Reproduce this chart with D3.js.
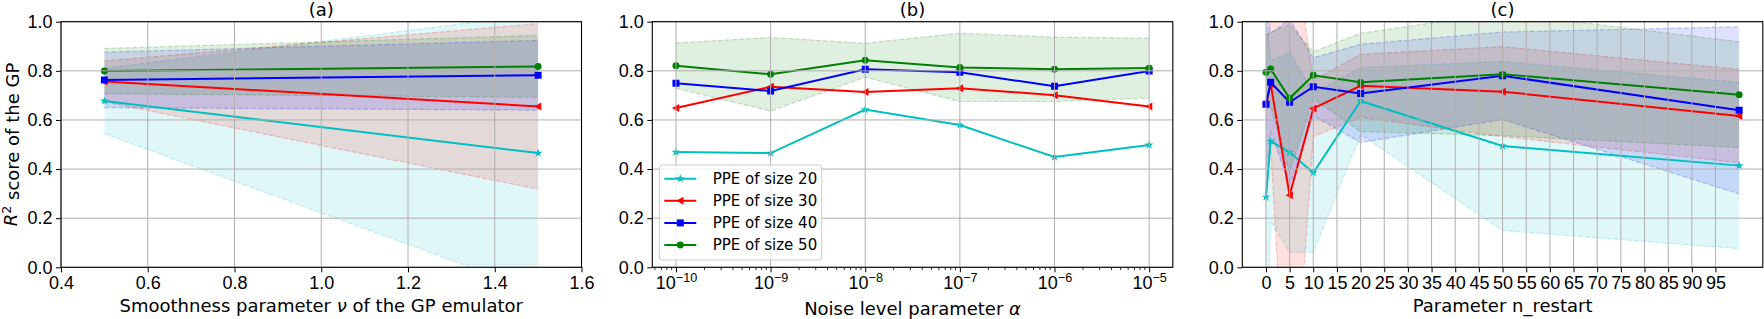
<!DOCTYPE html>
<html>
<head>
<meta charset="utf-8">
<script src="https://d3js.org/d3.v7.min.js"></script>
<style>
    body { margin: 0; background: #fff; }
    svg { display: block; font-family: "DejaVu Sans", sans-serif; }
</style>
</head>
<body>
<div id="chart"></div>
<script>
// Series (same in every panel)
var seriesNames = ["PPE of size 20", "PPE of size 30", "PPE of size 40", "PPE of size 50"];
var seriesColors = ["#00bfbf", "#ff0000", "#0000ff", "#008000"];
var seriesMarkers = ["star", "triangle", "square", "circle"];

// (a) smoothness parameter nu
var nuValues = [0.5, 1.5];
var nuTicks = [0.4, 0.6, 0.8, 1.0, 1.2, 1.4, 1.6];
var aMeans = [
    [0.677, 0.465],
    [0.757, 0.655],
    [0.763, 0.782],
    [0.799, 0.818]
];
var aStds = [
    [0.133, 0.565],
    [0.083, 0.337],
    [0.113, 0.142],
    [0.092, 0.126]
];

// (b) noise level alpha
var alphaValues = [1e-10, 1e-9, 1e-8, 1e-7, 1e-6, 1e-5];
var bMeans = [
    [0.469, 0.465, 0.642, 0.579, 0.449, 0.498],
    [0.649, 0.735, 0.714, 0.729, 0.701, 0.655],
    [0.749, 0.718, 0.806, 0.794, 0.737, 0.799],
    [0.821, 0.786, 0.843, 0.814, 0.806, 0.811]
];
var bStds = [
    null,
    null,
    null,
    [0.092, 0.150, 0.069, 0.139, 0.131, 0.122]
];

// (c) n_restart
var restartValues = [0, 1, 5, 10, 20, 50, 100];
var restartTicks = d3.range(0, 100, 5);
var cMeans = [
    [0.286, 0.514, 0.468, 0.385, 0.677, 0.494, 0.414],
    [0.665, 0.746, 0.293, 0.647, 0.739, 0.715, 0.616],
    [0.664, 0.753, 0.672, 0.735, 0.708, 0.780, 0.639],
    [0.794, 0.807, 0.688, 0.782, 0.753, 0.786, 0.703]
];
var cStds = [
    [0.75, 0.325, 0.407, 0.324, 0.136, 0.344, 0.338],
    [0.25, 0.259, 1.13, 0.115, 0.128, 0.183, 0.19],
    [0.40, 0.20, 0.337, 0.118, 0.20, 0.178, 0.34],
    [0.15, 0.15, 0.30, 0.096, 0.20, 0.25, 0.215]
];

var yTicks = [0, 0.2, 0.4, 0.6, 0.8, 1.0];

function markerPath(type) {
    if (type == "star") return d3.symbol(d3.symbolStar, 24)();
    if (type == "square") return d3.symbol(d3.symbolSquare, 49)();
    if (type == "circle") return d3.symbol(d3.symbolCircle, 38)();
    return "M-4,0L3.2,-4L3.2,4Z";   // triangle pointing left
}

function init() {
    var w = 1764;
    var h = 319;
    var top = 21.7, bottom = 267.3;
    var panelLeft = [61, 652.3, 1242.3];
    var panelW = 520.5;
    var fontSize = 18;

    var svg = d3.select("#chart")
        .append("svg")
        .attr("width", w)
        .attr("height", h);

    var y = d3.scaleLinear().domain([0, 1]).range([bottom, top]);

    var panels = [
        {
            title: "(a)", xs: nuValues, means: aMeans, stds: aStds,
            x: d3.scaleLinear().domain([0.4, 1.6]),
            ticks: nuTicks, fmt: d3.format(".1f")
        },
        {
            title: "(b)", xs: alphaValues, means: bMeans, stds: bStds,
            x: d3.scaleLog().domain([Math.pow(10, -10.25), Math.pow(10, -4.75)]),
            ticks: alphaValues, log: true
        },
        {
            title: "(c)", xs: restartValues, means: cMeans, stds: cStds,
            x: d3.scaleLinear().domain([-5, 105]),
            ticks: restartTicks, fmt: d3.format("d")
        }
    ];

    panels.forEach(function (p, pi) {
        var left = panelLeft[pi];
        var x = p.x.range([left, left + panelW]);
        var g = svg.append("g");

        var clipId = "clip" + pi;
        svg.append("clipPath").attr("id", clipId)
            .append("rect")
            .attr("x", left).attr("y", top)
            .attr("width", panelW).attr("height", bottom - top);

        var plot = g.append("g").attr("clip-path", "url(#" + clipId + ")");

        // Bands (mean +/- std)
        p.means.forEach(function (m, si) {
            var s = p.stds[si];
            if (!s) return;
            var pts = p.xs.map(function (xv, i) { return { x: xv, m: m[i], s: s[i] }; });
            var area = d3.area()
                .x(function (d) { return x(d.x); })
                .y0(function (d) { return y(d.m - d.s); })
                .y1(function (d) { return y(d.m + d.s); });
            plot.append("path")
                .attr("d", area(pts))
                .attr("fill", seriesColors[si])
                .attr("fill-opacity", 0.12);
            [1, -1].forEach(function (sign) {
                var edge = d3.line()
                    .x(function (d) { return x(d.x); })
                    .y(function (d) { return y(d.m + sign * d.s); });
                plot.append("path")
                    .attr("d", edge(pts))
                    .attr("fill", "none")
                    .attr("stroke", seriesColors[si])
                    .attr("stroke-opacity", 0.22)
                    .attr("stroke-width", 1.2)
                    .attr("stroke-dasharray", "5,2");
            });
        });

        // Grid
        g.selectAll(".vgrid")
            .data(p.ticks)
            .enter()
            .append("line")
            .attr("x1", function (d) { return x(d); })
            .attr("x2", function (d) { return x(d); })
            .attr("y1", top).attr("y2", bottom)
            .attr("stroke", "#b0b0b0").attr("stroke-width", 1);
        g.selectAll(".hgrid")
            .data(yTicks)
            .enter()
            .append("line")
            .attr("x1", left).attr("x2", left + panelW)
            .attr("y1", function (d) { return y(d); })
            .attr("y2", function (d) { return y(d); })
            .attr("stroke", "#b0b0b0").attr("stroke-width", 1);

        // Lines and markers
        p.means.forEach(function (m, si) {
            var pts = p.xs.map(function (xv, i) { return { x: xv, m: m[i] }; });
            var line = d3.line()
                .x(function (d) { return x(d.x); })
                .y(function (d) { return y(d.m); });
            plot.append("path")
                .attr("d", line(pts))
                .attr("fill", "none")
                .attr("stroke", seriesColors[si])
                .attr("stroke-width", 2);
            plot.selectAll(".mk" + si)
                .data(pts)
                .enter()
                .append("path")
                .attr("d", markerPath(seriesMarkers[si]))
                .attr("transform", function (d) { return "translate(" + x(d.x) + "," + y(d.m) + ")"; })
                .attr("fill", seriesColors[si]);
        });

        // Axes
        var xAxis = d3.axisBottom(x)
            .tickValues(p.ticks)
            .tickSize(5)
            .tickPadding(3.5);
        if (!p.log) xAxis.tickFormat(p.fmt);
        var xg = g.append("g")
            .attr("transform", "translate(0," + bottom + ")")
            .call(xAxis);
        xg.select(".domain").remove();
        xg.selectAll("text").style("font-size", fontSize + "px").attr("fill", "#000");

        if (p.log) {
            xg.selectAll(".tick text").each(function (d) {
                var t = d3.select(this);
                var e = Math.round(Math.log10(d));
                t.text(null);
                t.append("tspan").text("10");
                t.append("tspan")
                    .attr("dy", "-0.5em")
                    .style("font-size", "12.6px")
                    .text("\u2212" + Math.abs(e));
            });
            // minor ticks
            var minor = [];
            for (var k = -11; k <= -5; k++) {
                for (var mm = 2; mm <= 9; mm++) {
                    var v = mm * Math.pow(10, k);
                    if (v > x.domain()[0] && v < x.domain()[1]) minor.push(v);
                }
            }
            g.selectAll(".minor")
                .data(minor)
                .enter()
                .append("line")
                .attr("x1", function (d) { return x(d); })
                .attr("x2", function (d) { return x(d); })
                .attr("y1", bottom).attr("y2", bottom + 2.8)
                .attr("stroke", "#000").attr("stroke-width", 0.8);
        }

        var yg = g.append("g")
            .attr("transform", "translate(" + left + ",0)")
            .call(d3.axisLeft(y).tickValues(yTicks).tickFormat(d3.format(".1f")).tickSize(5).tickPadding(3.5));
        yg.select(".domain").remove();
        yg.selectAll("text").style("font-size", fontSize + "px").attr("fill", "#000");

        // Spines
        g.append("rect")
            .attr("x", left).attr("y", top)
            .attr("width", panelW).attr("height", bottom - top)
            .attr("fill", "none")
            .attr("stroke", "#000")
            .attr("stroke-width", 1.1);

        // Title
        g.append("text")
            .attr("x", left + panelW / 2)
            .attr("y", 16)
            .attr("text-anchor", "middle")
            .style("font-size", fontSize + "px")
            .text(p.title);
    });

    // Axis labels
    var lab = svg.append("text")
        .attr("x", panelLeft[0] + panelW / 2).attr("y", 311.5)
        .attr("text-anchor", "middle")
        .style("font-size", fontSize + "px");
    lab.append("tspan").text("Smoothness parameter ");
    lab.append("tspan").style("font-style", "italic").text("\u03bd");
    lab.append("tspan").text(" of the GP emulator");

    var labB = svg.append("text")
        .attr("x", panelLeft[1] + panelW / 2).attr("y", 315)
        .attr("text-anchor", "middle")
        .style("font-size", fontSize + "px");
    labB.append("tspan").text("Noise level parameter ");
    labB.append("tspan").style("font-style", "italic").text("\u03b1");

    svg.append("text")
        .attr("x", panelLeft[2] + panelW / 2).attr("y", 311.5)
        .attr("text-anchor", "middle")
        .style("font-size", fontSize + "px")
        .text("Parameter n_restart");

    var yl = svg.append("text")
        .attr("transform", "translate(17,144.5) rotate(-90)")
        .attr("text-anchor", "middle")
        .style("font-size", fontSize + "px");
    yl.append("tspan").style("font-style", "italic").text("R");
    yl.append("tspan").attr("dy", "-0.45em").style("font-size", "12.6px").text("2");
    yl.append("tspan").attr("dy", "0.45em").text(" score of the GP");

    // Legend in panel (b)
    var lg = svg.append("g").attr("transform", "translate(659.3,165)");
    lg.append("rect")
        .attr("width", 162.4).attr("height", 95)
        .attr("rx", 3)
        .attr("fill", "#fff").attr("fill-opacity", 0.8)
        .attr("stroke", "#cccccc").attr("stroke-width", 1);
    seriesNames.forEach(function (name, i) {
        var row = lg.append("g").attr("transform", "translate(0," + (13.7 + i * 22.1) + ")");
        row.append("line")
            .attr("x1", 5).attr("x2", 37)
            .attr("stroke", seriesColors[i]).attr("stroke-width", 2);
        row.append("path")
            .attr("d", markerPath(seriesMarkers[i]))
            .attr("transform", "translate(21,0)")
            .attr("fill", seriesColors[i]);
        row.append("text")
            .attr("x", 53.4).attr("dy", "0.36em")
            .style("font-size", "15px")
            .text(name);
    });
}

window.onload = init;
</script>
</body>
</html>
